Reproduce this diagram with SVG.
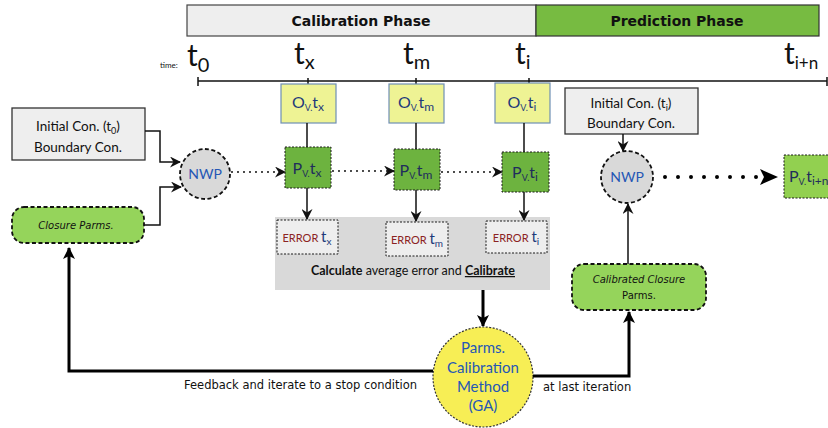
<svg xmlns="http://www.w3.org/2000/svg" width="828" height="428" viewBox="0 0 828 428">
<style>
.gill{font-family:Lato,"Open Sans","Liberation Sans",sans-serif}
.comic{font-family:"DejaVu Sans","Liberation Sans",sans-serif}
.obox{fill:#eef394;stroke:#6f8fb5;stroke-width:1.2}
.pbox{fill:#6db33f;stroke:#1a1a1a;stroke-width:1;stroke-dasharray:2 1.5}
.ebox{fill:#eeeeee;stroke:#1a1a1a;stroke-width:1;stroke-dasharray:2 1.5}
.gbox{fill:#eeeeee;stroke:#333333;stroke-width:1.3}
.closure{fill:#95d45b;stroke:#111;stroke-width:1.8;stroke-dasharray:4 2.5}
.ln{fill:none;stroke:#111;stroke-width:1.5}
.thick{fill:none;stroke:#000;stroke-width:3}
.dots{fill:none;stroke:#111;stroke-width:2;stroke-dasharray:0 6;stroke-linecap:round}
.blue{fill:#1f3a7a}
.nwp{fill:#2557b5}
</style>
<defs>
<marker id="stealth" markerWidth="11" markerHeight="11" refX="10" refY="5.5" orient="auto" markerUnits="userSpaceOnUse">
<path d="M0,0 L11,5.5 L0,11 L3.5,5.5 z" fill="#111"/>
</marker>
<marker id="tri" markerWidth="12" markerHeight="12" refX="11" refY="6" orient="auto" markerUnits="userSpaceOnUse">
<path d="M0,0 L12,6 L0,12 L3,6 z" fill="#000"/>
</marker>
</defs>

<!-- Phase bars -->
<g id="calibration-phase">
<rect x="187" y="5" width="349" height="31" fill="#eeeeee" stroke="#444" stroke-width="1.2"/>
<text x="361" y="26" text-anchor="middle" class="comic" font-size="14" font-weight="bold" fill="#111">Calibration Phase</text>
</g>
<g id="prediction-phase">
<rect x="536" y="5" width="283" height="31" fill="#77bb41" stroke="#333" stroke-width="1.2"/>
<text x="677" y="26" text-anchor="middle" class="comic" font-size="14" font-weight="bold" fill="#111">Prediction Phase</text>
</g>

<!-- Time axis -->
<g id="time-axis">
<line x1="198" y1="81" x2="827" y2="81" stroke="#111" stroke-width="1.5"/>
<line x1="198" y1="77" x2="198" y2="86" stroke="#111" stroke-width="1.5"/>
<line x1="308" y1="78" x2="308" y2="84" stroke="#111" stroke-width="1.5"/>
<line x1="416" y1="78" x2="416" y2="84" stroke="#111" stroke-width="1.5"/>
<line x1="529" y1="78" x2="529" y2="84" stroke="#111" stroke-width="1.5"/>
<line x1="827" y1="77" x2="827" y2="86" stroke="#111" stroke-width="1.5"/>
<text x="160" y="68" class="gill" font-size="8" fill="#111">time:</text>
<text x="187" y="66" class="gill" font-size="30" fill="#111">t<tspan font-size="20" dy="6">0</tspan></text>
<text x="294" y="64" class="gill" font-size="30" fill="#111">t<tspan font-size="20" dy="5">x</tspan></text>
<text x="403" y="64" class="gill" font-size="30" fill="#111">t<tspan font-size="20" dy="5">m</tspan></text>
<text x="515" y="64" class="gill" font-size="30" fill="#111">t<tspan font-size="20" dy="5">i</tspan></text>
<text x="784" y="64" class="gill" font-size="30" fill="#111">t<tspan font-size="17" dy="5">i+n</tspan></text>
</g>

<!-- Left inputs -->
<g id="init-cond-t0">
<rect x="12" y="108" width="133" height="52" class="gbox"/>
<text x="78" y="131" text-anchor="middle" class="gill" font-size="13.5" fill="#111">Initial  Con. (t<tspan font-size="9" dy="3">0</tspan><tspan dy="-3">)</tspan></text>
<text x="78" y="152" text-anchor="middle" class="gill" font-size="13.5" fill="#111">Boundary Con.</text>
</g>
<g id="closure-parms">
<rect x="12" y="207" width="132" height="36" rx="12" class="closure"/>
<text x="76" y="229" text-anchor="middle" class="comic" font-size="10" font-style="italic" fill="#111">Closure Parms.</text>
</g>
<g id="nwp1">
<circle cx="205" cy="174" r="25" fill="#d9d9d9" stroke="#111" stroke-width="1.8" stroke-dasharray="4 2.5"/>
<text x="205" y="179" text-anchor="middle" class="gill nwp" font-size="14">NWP</text>
</g>

<!-- O boxes -->
<g id="obs-tx">
<rect x="281" y="84" width="55" height="39" class="obox"/>
<text x="308" y="108" text-anchor="middle" class="gill blue" font-size="16">O<tspan font-size="9" dy="3">V.</tspan><tspan dy="-3">t</tspan><tspan font-size="12" dy="3">x</tspan></text>
</g>
<g id="obs-tm">
<rect x="389" y="84" width="55" height="39" class="obox"/>
<text x="416" y="108" text-anchor="middle" class="gill blue" font-size="16">O<tspan font-size="9" dy="3">V.</tspan><tspan dy="-3">t</tspan><tspan font-size="12" dy="3">m</tspan></text>
</g>
<g id="obs-ti">
<rect x="495" y="83" width="55" height="40" class="obox"/>
<text x="522" y="108" text-anchor="middle" class="gill blue" font-size="16">O<tspan font-size="9" dy="3">V.</tspan><tspan dy="-3">t</tspan><tspan font-size="12" dy="3">i</tspan></text>
</g>

<!-- P boxes -->
<g id="pred-tx">
<rect x="285" y="147" width="46" height="41" class="pbox"/>
<text x="307" y="174" text-anchor="middle" class="gill" font-size="16" fill="#1f2d5c">P<tspan font-size="9" dy="3">V.</tspan><tspan dy="-3">t</tspan><tspan font-size="12" dy="3">x</tspan></text>
</g>
<g id="pred-tm">
<rect x="394" y="149" width="46" height="41" class="pbox"/>
<text x="416" y="176" text-anchor="middle" class="gill" font-size="16" fill="#1f2d5c">P<tspan font-size="9" dy="3">V.</tspan><tspan dy="-3">t</tspan><tspan font-size="12" dy="3">m</tspan></text>
</g>
<g id="pred-ti">
<rect x="502" y="152" width="47" height="40" class="pbox"/>
<text x="525" y="178" text-anchor="middle" class="gill" font-size="16" fill="#1f2d5c">P<tspan font-size="9" dy="3">V.</tspan><tspan dy="-3">t</tspan><tspan font-size="12" dy="3">i</tspan></text>
</g>

<!-- Error panel -->
<g id="error-panel">
<rect x="275" y="217" width="275" height="73" fill="#d9d9d9"/>
<text x="413" y="275" text-anchor="middle" class="gill" font-size="12.5" fill="#111"><tspan font-weight="bold">Calculate</tspan> average error and <tspan font-weight="bold" text-decoration="underline">Calibrate</tspan></text>
</g>
<g id="error-tx">
<rect x="277" y="220" width="61" height="34" class="ebox"/>
<text x="307" y="242" text-anchor="middle" class="gill" font-size="11" fill="#8b2323">ERROR <tspan class="blue" font-size="15">t</tspan><tspan class="blue" font-size="10" dy="3">x</tspan></text>
</g>
<g id="error-tm">
<rect x="386" y="222" width="62" height="34" class="ebox"/>
<text x="417" y="244" text-anchor="middle" class="gill" font-size="11" fill="#8b2323">ERROR <tspan class="blue" font-size="15">t</tspan><tspan class="blue" font-size="10" dy="3">m</tspan></text>
</g>
<g id="error-ti">
<rect x="486" y="221" width="61" height="32" class="ebox"/>
<text x="516" y="242" text-anchor="middle" class="gill" font-size="11" fill="#8b2323">ERROR <tspan class="blue" font-size="15">t</tspan><tspan class="blue" font-size="10" dy="3">i</tspan></text>
</g>

<!-- GA circle -->
<g id="ga-method">
<circle cx="483" cy="377" r="50" fill="#f7ee55" stroke="#333" stroke-width="1.2" stroke-dasharray="2 1.5"/>
<text x="483" y="353" text-anchor="middle" class="gill nwp" font-size="15">Parms.</text>
<text x="483" y="373" text-anchor="middle" class="gill nwp" font-size="15">Calibration</text>
<text x="483" y="392" text-anchor="middle" class="gill nwp" font-size="15">Method</text>
<text x="483" y="411" text-anchor="middle" class="gill nwp" font-size="15">(GA)</text>
</g>

<!-- Prediction side -->
<g id="init-cond-ti">
<rect x="565" y="88" width="133" height="46" class="gbox"/>
<text x="631" y="108" text-anchor="middle" class="gill" font-size="13.5" fill="#111">Initial  Con. (t<tspan font-size="9" dy="3">i</tspan><tspan dy="-3">)</tspan></text>
<text x="631" y="128" text-anchor="middle" class="gill" font-size="13.5" fill="#111">Boundary Con.</text>
</g>
<g id="nwp2">
<circle cx="627" cy="177" r="26" fill="#d9d9d9" stroke="#111" stroke-width="1.8" stroke-dasharray="4 2.5"/>
<text x="627" y="182" text-anchor="middle" class="gill nwp" font-size="14">NWP</text>
</g>
<g id="pred-tin">
<rect x="784" y="155" width="50" height="43" fill="#92d050" stroke="#1a1a1a" stroke-width="1" stroke-dasharray="2 1.5"/>
<text x="789" y="182" class="gill" font-size="16" fill="#1f2d5c">P<tspan font-size="9" dy="3">V.</tspan><tspan dy="-3">t</tspan><tspan font-size="12" dy="3">i+n</tspan></text>
</g>
<g id="calibrated-closure">
<rect x="572" y="264" width="134" height="46" rx="12" class="closure"/>
<text x="639" y="283" text-anchor="middle" class="comic" font-size="10" font-style="italic" fill="#111">Calibrated Closure</text>
<text x="639" y="299" text-anchor="middle" class="comic" font-size="10" fill="#111">Parms.</text>
</g>

<!-- Connectors -->
<g id="connectors">
<polyline points="145,131 160,131 160,162 180,162" class="ln" marker-end="url(#stealth)"/>
<polyline points="144,225 160,225 160,187 181,187" class="ln" marker-end="url(#stealth)"/>
<line x1="232" y1="172" x2="285" y2="172" class="dots" marker-end="url(#stealth)"/>
<line x1="333" y1="171" x2="394" y2="171" class="dots" marker-end="url(#stealth)"/>
<line x1="442" y1="172" x2="502" y2="172" class="dots" marker-end="url(#stealth)"/>
<line x1="307" y1="123" x2="307" y2="147" class="ln"/>
<line x1="416" y1="123" x2="416" y2="149" class="ln"/>
<line x1="524" y1="123" x2="524" y2="152" class="ln"/>
<line x1="307" y1="188" x2="307" y2="219" class="ln" marker-end="url(#stealth)"/>
<line x1="416" y1="190" x2="416" y2="221" class="ln" marker-end="url(#stealth)"/>
<line x1="524" y1="192" x2="524" y2="220" class="ln" marker-end="url(#stealth)"/>
<line x1="483" y1="290" x2="483" y2="326" class="thick" marker-end="url(#tri)"/>
<polyline points="433,371 69,371 69,248" class="thick" marker-end="url(#tri)"/>
<polyline points="533,376 629,376 629,312" class="thick" marker-end="url(#tri)"/>
<line x1="623" y1="134" x2="623" y2="151" class="ln" marker-end="url(#stealth)"/>
<line x1="628" y1="264" x2="628" y2="204" class="ln" marker-end="url(#stealth)"/>
<line x1="665" y1="177" x2="758" y2="177" fill="none" stroke="#000" stroke-width="4" stroke-dasharray="0 13" stroke-linecap="round"/>
<path d="M760,169 L778,177 L760,185 L764,177 z" fill="#000"/>
<text x="184" y="389" class="comic" font-size="11.5" fill="#111">Feedback and iterate to a stop condition</text>
<text x="543" y="391" class="comic" font-size="11.5" fill="#111">at last iteration</text>
</g>
</svg>
